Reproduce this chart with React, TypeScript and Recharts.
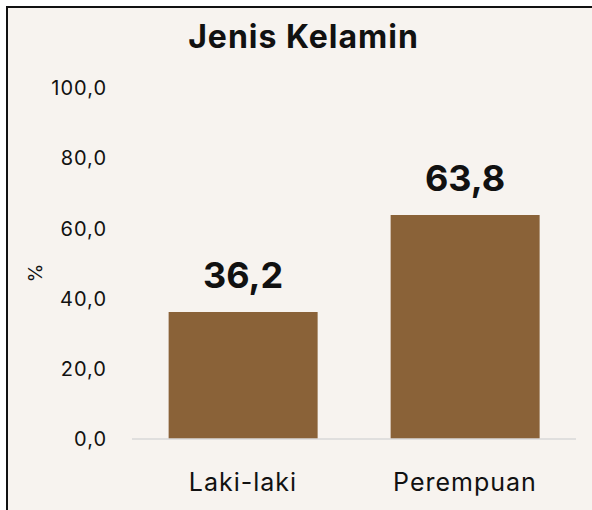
import React from 'react';
import { BarChart, Bar, XAxis, YAxis, LabelList } from 'recharts';

const categories = ['Laki-laki', 'Perempuan'];
const values = [36.2, 63.8];
const yTicks = [0, 20, 40, 60, 80, 100];
const title = 'Jenis Kelamin';
const yLabel = '%';

const data = categories.map((c, i) => ({ name: c, value: values[i] }));
const fmt = (v: number) => v.toFixed(1).replace('.', ',');
const FONT = 'Inter, "Noto Sans", sans-serif';

export default function App() {
  return (
    <div style={{ position: 'fixed', left: 0, top: 0, width: 592, height: 510, background: '#fff', overflow: 'hidden', fontFamily: FONT }}>
      <div style={{ position: 'absolute', left: 6, top: 6, width: 620, height: 540, borderLeft: '2px solid #111', borderTop: '2px solid #111', background: '#f7f3ef' }} />
      <div style={{ position: 'absolute', left: 0, top: 17, width: 607, textAlign: 'center', fontSize: 32, fontWeight: 700, color: '#111', letterSpacing: 1 }}>{title}</div>
      <div style={{ position: 'absolute', left: 0, top: 0 }}>
        <BarChart width={592} height={510} data={data} margin={{ top: 88, right: 16, bottom: 0, left: 0 }} barCategoryGap="16.5%">
          <XAxis dataKey="name" height={71} tickLine={false} tickSize={0} tickMargin={34} axisLine={{ stroke: '#d9d9d9', strokeWidth: 1.5 }} tick={{ fontSize: 25, fill: '#111', fontFamily: FONT, letterSpacing: 1 }} />
          <YAxis width={132} domain={[0, 100]} ticks={yTicks} interval={0} tickFormatter={fmt} axisLine={false} tickLine={false} tickSize={0} tickMargin={25} tick={{ fontSize: 20, fill: '#111', fontFamily: FONT, letterSpacing: 1 }} />
          <Bar dataKey="value" fill="#8a6238" isAnimationActive={false}>
            <LabelList dataKey="value" position="top" offset={24} formatter={(v: number) => fmt(v)} style={{ fontSize: 36, fontWeight: 700, fill: '#111', fontFamily: FONT }} />
          </Bar>
        </BarChart>
      </div>
      <div style={{ position: 'absolute', left: 35, top: 273, transform: 'translate(-50%, -50%) rotate(-90deg)', fontSize: 19, color: '#111', lineHeight: 1 }}>{yLabel}</div>
    </div>
  );
}
